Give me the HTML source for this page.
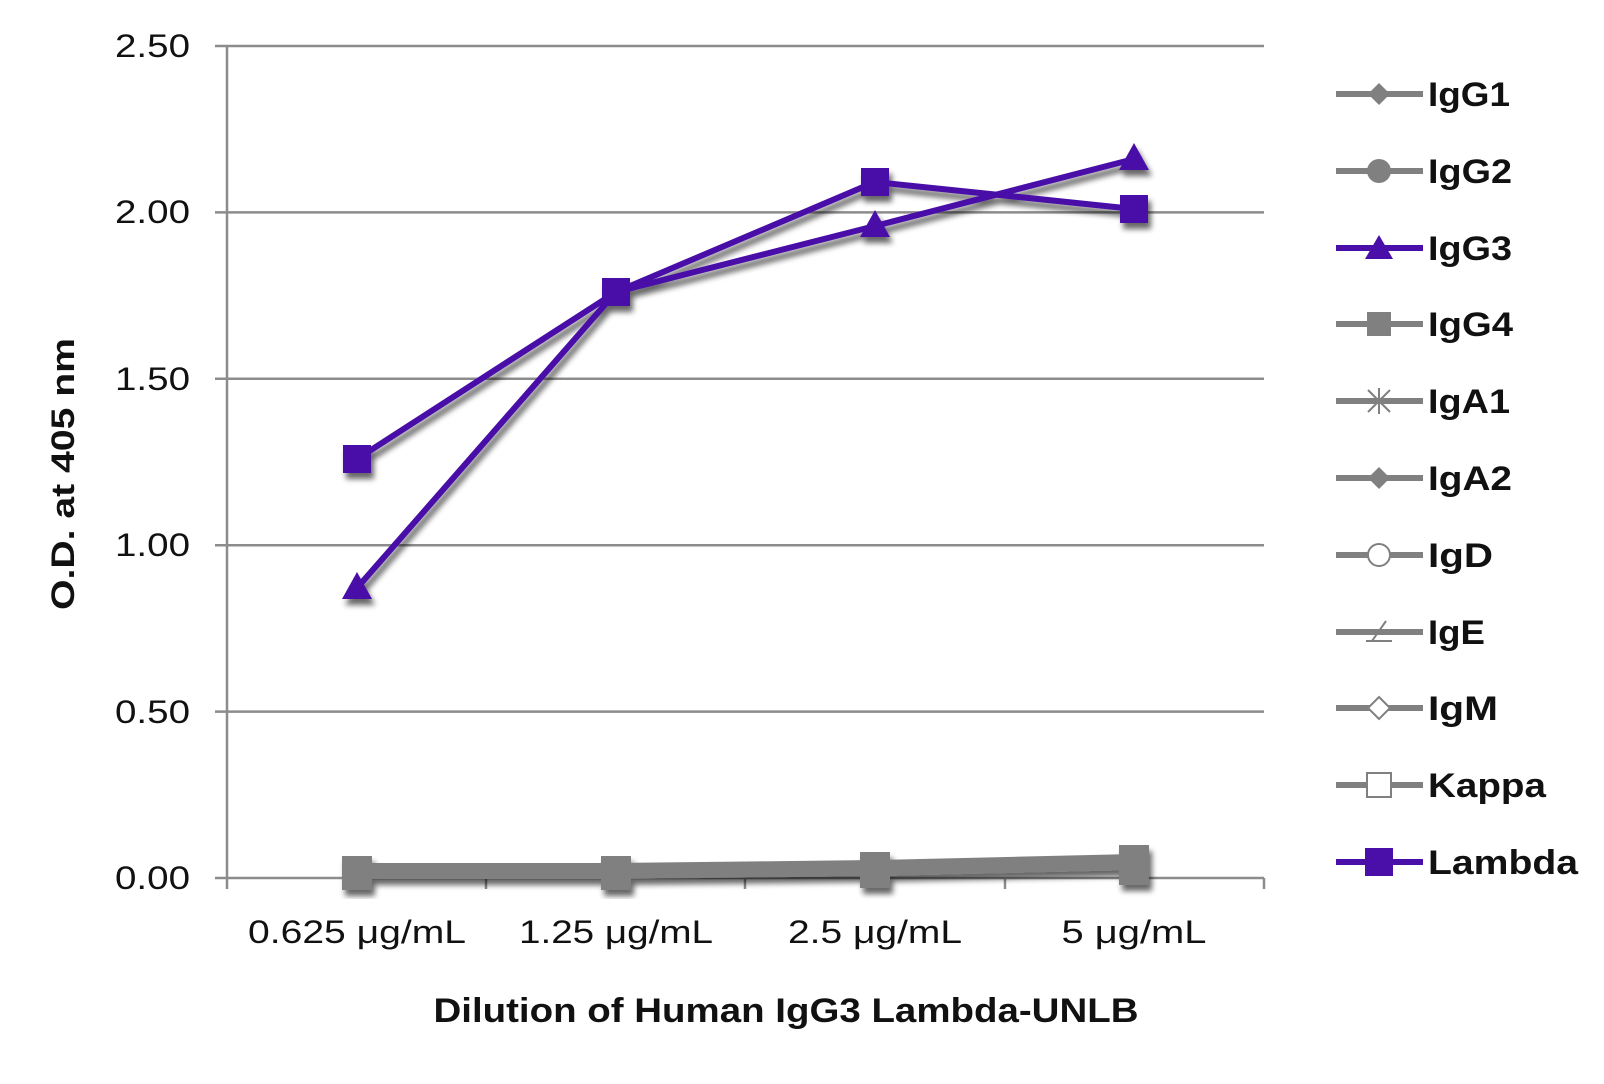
<!DOCTYPE html>
<html><head><style>
html,body{margin:0;padding:0;background:#fff;}
svg{display:block;}
</style></head><body>
<svg width="1604" height="1084" viewBox="0 0 1604 1084" xmlns="http://www.w3.org/2000/svg">
<defs>
<filter id="sh" x="-20%" y="-20%" width="140%" height="140%">
<feGaussianBlur in="SourceAlpha" stdDeviation="3"/>
<feOffset dx="3" dy="6" result="b"/>
<feComponentTransfer><feFuncA type="linear" slope="0.6"/></feComponentTransfer>
<feMerge><feMergeNode/><feMergeNode in="SourceGraphic"/></feMerge>
</filter>
</defs>
<g stroke="#8c8c8c" stroke-width="2.5">
<line x1="215" y1="46" x2="1264" y2="46"/>
<line x1="215" y1="212.4" x2="1264" y2="212.4"/>
<line x1="215" y1="378.8" x2="1264" y2="378.8"/>
<line x1="215" y1="545.2" x2="1264" y2="545.2"/>
<line x1="215" y1="711.6" x2="1264" y2="711.6"/>
<line x1="215" y1="878" x2="1264" y2="878"/>
<line x1="227" y1="46" x2="227" y2="889"/>
<line x1="486" y1="878" x2="486" y2="889"/>
<line x1="745" y1="878" x2="745" y2="889"/>
<line x1="1005" y1="878" x2="1005" y2="889"/>
<line x1="1264" y1="878" x2="1264" y2="889"/>
</g>
<g font-family="Liberation Sans, sans-serif" font-size="32" fill="#111" text-anchor="end">
<text x="190" y="57" textLength="75" lengthAdjust="spacingAndGlyphs">2.50</text>
<text x="190" y="223" textLength="75" lengthAdjust="spacingAndGlyphs">2.00</text>
<text x="190" y="390" textLength="75" lengthAdjust="spacingAndGlyphs">1.50</text>
<text x="190" y="556" textLength="75" lengthAdjust="spacingAndGlyphs">1.00</text>
<text x="190" y="723" textLength="75" lengthAdjust="spacingAndGlyphs">0.50</text>
<text x="190" y="889" textLength="75" lengthAdjust="spacingAndGlyphs">0.00</text>
</g>
<g font-family="Liberation Sans, sans-serif" font-size="32" fill="#111" text-anchor="middle">
<text x="357" y="943" textLength="218" lengthAdjust="spacingAndGlyphs">0.625 μg/mL</text>
<text x="616" y="943" textLength="194" lengthAdjust="spacingAndGlyphs">1.25 μg/mL</text>
<text x="875" y="943" textLength="174" lengthAdjust="spacingAndGlyphs">2.5 μg/mL</text>
<text x="1134" y="943" textLength="145" lengthAdjust="spacingAndGlyphs">5 μg/mL</text>
</g>
<text x="786" y="1022" font-family="Liberation Sans, sans-serif" font-weight="bold" font-size="34" fill="#111" text-anchor="middle" textLength="705" lengthAdjust="spacingAndGlyphs">Dilution of Human IgG3 Lambda-UNLB</text>
<text transform="translate(74,474) rotate(-90)" font-family="Liberation Sans, sans-serif" font-weight="bold" font-size="32" fill="#111" text-anchor="middle" textLength="272" lengthAdjust="spacingAndGlyphs">O.D. at 405 nm</text>
<g filter="url(#sh)">
<polyline points="357,871 616,871 875,868 1134,862" fill="none" stroke="#808080" stroke-width="16"/>
<rect x="342" y="856" width="30" height="34" fill="#808080"/>
<rect x="601" y="856" width="30" height="34" fill="#808080"/>
<rect x="860" y="852" width="30" height="36" fill="#808080"/>
<rect x="1119" y="845" width="30" height="40" fill="#808080"/>
</g>
<g filter="url(#sh)" fill="#4a0fa8">
<polyline points="357,588 616,292 875,226 1134,159" fill="none" stroke="#4a0fa8" stroke-width="6"/>
<polyline points="357,459 616,292 875,182 1134,209" fill="none" stroke="#4a0fa8" stroke-width="6"/>
<polygon points="357,572 342,599 372,599"/>
<polygon points="875,210 860,237 890,237"/>
<polygon points="1134,143 1119,170 1149,170"/>
<rect x="343" y="445" width="28" height="28"/>
<rect x="602" y="278" width="28" height="28"/>
<rect x="861" y="168" width="28" height="28"/>
<rect x="1120" y="195" width="28" height="28"/>
</g>
<g stroke-width="6">
<line x1="1336" y1="94" x2="1423" y2="94" stroke="#808080"/>
<line x1="1336" y1="171" x2="1423" y2="171" stroke="#808080"/>
<line x1="1336" y1="248" x2="1423" y2="248" stroke="#4a0fa8"/>
<line x1="1336" y1="324" x2="1423" y2="324" stroke="#808080"/>
<line x1="1336" y1="401" x2="1423" y2="401" stroke="#808080"/>
<line x1="1336" y1="478" x2="1423" y2="478" stroke="#808080"/>
<line x1="1336" y1="555" x2="1423" y2="555" stroke="#808080"/>
<line x1="1336" y1="632" x2="1423" y2="632" stroke="#808080"/>
<line x1="1336" y1="708" x2="1423" y2="708" stroke="#808080"/>
<line x1="1336" y1="785" x2="1423" y2="785" stroke="#808080"/>
<line x1="1336" y1="862" x2="1423" y2="862" stroke="#4a0fa8"/>
</g>
<polygon points="1379,83 1390,94 1379,105 1368,94" fill="#808080"/>
<circle cx="1379" cy="171" r="12" fill="#808080"/>
<polygon points="1379,235 1365,259 1393,259" fill="#4a0fa8"/>
<rect x="1367" y="312" width="24" height="24" fill="#808080"/>
<g stroke="#808080" stroke-width="2"><line x1="1368" y1="390" x2="1390" y2="412"/><line x1="1390" y1="390" x2="1368" y2="412"/><line x1="1379" y1="388" x2="1379" y2="414"/></g>
<polygon points="1379,467 1390,478 1379,489 1368,478" fill="#808080"/>
<circle cx="1379" cy="555" r="11" fill="#fff" stroke="#808080" stroke-width="2"/>
<path d="M1366 641 L1392 641 M1372 641 L1386 621" stroke="#808080" stroke-width="2" fill="none"/>
<polygon points="1379,697 1390,708 1379,719 1368,708" fill="#fff" stroke="#808080" stroke-width="2"/>
<rect x="1367" y="773" width="24" height="24" fill="#fff" stroke="#808080" stroke-width="2"/>
<rect x="1365" y="848" width="28" height="28" fill="#4a0fa8"/>
<g font-family="Liberation Sans, sans-serif" font-weight="bold" font-size="34" fill="#111">
<text x="1428" y="106" textLength="82" lengthAdjust="spacingAndGlyphs">IgG1</text>
<text x="1428" y="183" textLength="84" lengthAdjust="spacingAndGlyphs">IgG2</text>
<text x="1428" y="260" textLength="84" lengthAdjust="spacingAndGlyphs">IgG3</text>
<text x="1428" y="336" textLength="85" lengthAdjust="spacingAndGlyphs">IgG4</text>
<text x="1428" y="413" textLength="82" lengthAdjust="spacingAndGlyphs">IgA1</text>
<text x="1428" y="490" textLength="84" lengthAdjust="spacingAndGlyphs">IgA2</text>
<text x="1428" y="567" textLength="65" lengthAdjust="spacingAndGlyphs">IgD</text>
<text x="1428" y="644" textLength="57" lengthAdjust="spacingAndGlyphs">IgE</text>
<text x="1428" y="720" textLength="70" lengthAdjust="spacingAndGlyphs">IgM</text>
<text x="1428" y="797" textLength="118" lengthAdjust="spacingAndGlyphs">Kappa</text>
<text x="1428" y="874" textLength="150" lengthAdjust="spacingAndGlyphs">Lambda</text>
</g>
</svg>
</body></html>
